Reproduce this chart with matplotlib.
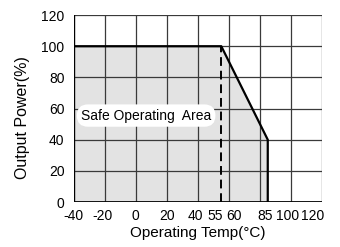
import matplotlib
matplotlib.use("Agg")
import matplotlib.pyplot as plt
from matplotlib.transforms import ScaledTranslation

plt.rcParams['font.family'] = ['Liberation Sans', 'DejaVu Sans']

# derating curve
temp = [-40, -40, 55, 85, 85]
power = [0, 100, 100, 40, 0]
grid_x = [-40, -20, 0, 20, 40, 60, 80, 100, 120]
grid_y = [0, 20, 40, 60, 80, 100, 120]
xlabels = [-40, -20, 0, 20, 40, 55, 60, 85, 100, 120]
# small nudges (px) so the crowded labels sit like the original
nudge = [-1, -3, -1, -0.5, -3, -6, 5, -3, -3.5, -9]

fig = plt.figure(figsize=(3.4, 2.47), dpi=100)
ax = fig.add_axes([0.218, 0.182, 0.729, 0.757])

ax.fill(temp, power, color='#e3e3e3', zorder=1)
for gx in grid_x:
    ax.axvline(gx, color='#3a3a3a', lw=0.9, zorder=2)
for gy in grid_y:
    ax.axhline(gy, color='#3a3a3a', lw=0.9, zorder=2)
ax.plot(temp[1:], power[1:], color='black', lw=1.6, zorder=3)
ax.axvline(-40, color='black', lw=1.6, zorder=3)
ax.plot([55, 55], [0, 100], color='black', lw=1.4, ls=(0, (4.5, 2.5)), zorder=3)
ax.axhline(0, color='black', lw=2, zorder=4)

ax.text(6.5, 55.5, 'Safe Operating  Area', fontsize=10, ha='center', va='center',
        bbox=dict(boxstyle='round,pad=0.3,rounding_size=0.8', fc='white', ec='none'), zorder=5)

ax.set_xlim(-40, 120)
ax.set_ylim(0, 120)
ax.set_xticks(xlabels)
ax.set_xticklabels([str(v) for v in xlabels])
ax.set_yticks(grid_y)
ax.tick_params(length=0, labelsize=10)
ax.tick_params(axis='x', pad=5)
ax.tick_params(axis='y', pad=7)
for lab, dx in zip(ax.get_xticklabels(), nudge):
    lab.set_transform(lab.get_transform() + ScaledTranslation(dx / 100, 0, fig.dpi_scale_trans))
for s in ax.spines.values():
    s.set_visible(False)
ax.set_xlabel('Operating Temp(°C)', fontsize=11, labelpad=2)
ax.set_ylabel('Output Power(%)', fontsize=11.5)
ax.yaxis.set_label_coords(-0.18, 0.45)

fig.savefig('out.png', dpi=100)
